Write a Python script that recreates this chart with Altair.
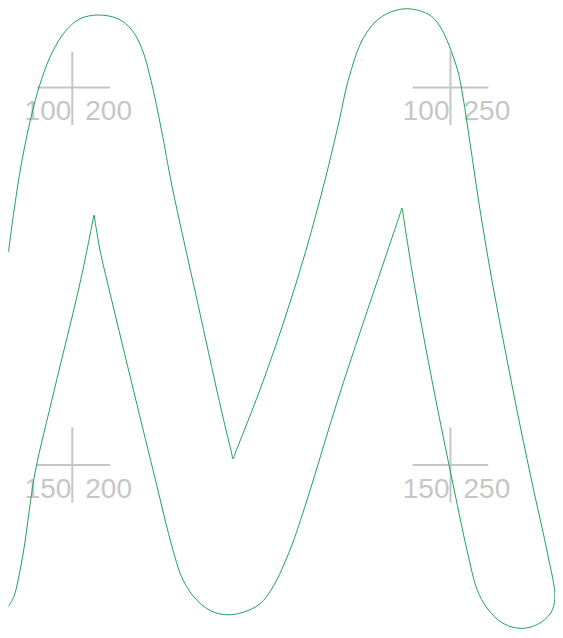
import altair as alt
import pandas as pd

# Path points (data units), in drawing order
path_x = [190.97, 191.70, 192.89, 194.41, 195.73, 197.18, 199.03, 201.02, 203.40, 206.04,
          207.89, 209.22, 210.40, 211.79, 213.18, 216.49, 219.79, 221.06, 221.25, 221.55,
          224.80, 228.04, 230.91, 233.41, 235.31, 236.48, 238.43, 240.68, 243.86, 247.03,
          248.61, 250.86, 251.65, 252.58, 253.97, 255.54, 257.30, 259.34, 261.65, 263.71,
          264.88, 264.22, 262.23, 259.59, 256.94, 254.83, 253.51, 252.18, 250.49, 248.59,
          246.78, 245.11, 243.72, 243.59, 243.33, 235.39, 231.03, 228.78, 226.53, 224.82,
          222.57, 220.59, 218.47, 216.49, 214.64, 213.31, 210.67, 204.98, 203.66, 203.00,
          202.87, 202.71, 201.02, 197.45, 194.80, 194.01, 193.35, 192.56, 191.76, 190.97]
path_y = [121.80, 116.63, 109.61, 102.99, 98.62, 95.05, 92.13, 90.41, 89.88, 90.41,
          92.00, 94.65, 99.02, 105.64, 113.06, 128.15, 143.12, 148.41, 149.21, 148.41,
          140.07, 130.80, 121.53, 112.26, 104.32, 99.02, 93.19, 90.28, 89.02, 89.75,
          91.47, 97.30, 101.27, 107.36, 116.63, 125.90, 135.17, 144.44, 153.71, 161.66,
          167.88, 170.26, 171.98, 172.65, 171.85, 169.47, 166.55, 161.26, 153.31, 144.04,
          134.77, 125.50, 116.76, 115.97, 116.76, 140.47, 154.64, 161.26, 166.16, 168.81,
          170.13, 170.53, 170.00, 168.28, 165.23, 161.26, 150.66, 127.23, 121.53, 117.69,
          116.90, 117.69, 125.90, 140.07, 150.66, 155.30, 159.93, 164.17, 167.61, 169.20]

# Reference crosses
cross_x = [200, 250, 200, 250]
cross_y = [100, 100, 150, 150]

path_df = pd.DataFrame({"x": path_x, "y": path_y, "i": list(range(len(path_x)))})
cross_df = pd.DataFrame({"cx": cross_x, "cy": cross_y,
                         "xl": [str(v) for v in cross_x],
                         "yl": [str(v) for v in cross_y]})

W, H = 547, 622
xs = alt.Scale(domain=[190.9, 200, 258, 264.9], range=[0, 64.3, 503.0, W],
               nice=False, zero=False)
ys = alt.Scale(domain=[88.9, 100, 166, 172.9], range=[0, 79.4, 577.8, H],
               nice=False, zero=False)

GRAY = "#c6c6c6"
ARM = 5

base = alt.Chart(cross_df).transform_calculate(
    x1=f"datum.cx - {ARM}", x2=f"datum.cx + {ARM}",
    y1=f"datum.cy - {ARM}", y2=f"datum.cy + {ARM}")

hrule = base.mark_rule(color=GRAY, strokeWidth=2).encode(
    x=alt.X("x1:Q", scale=xs, axis=None), x2="x2:Q",
    y=alt.Y("cy:Q", scale=ys, axis=None))
vrule = base.mark_rule(color=GRAY, strokeWidth=2).encode(
    x=alt.X("cx:Q", scale=xs, axis=None),
    y=alt.Y("y1:Q", scale=ys, axis=None), y2="y2:Q")

ylab = base.mark_text(align="right", baseline="alphabetic", dx=-1, dy=33,
                      fontSize=28, font="Liberation Sans", color=GRAY).encode(
    x=alt.X("cx:Q", scale=xs, axis=None), y=alt.Y("cy:Q", scale=ys, axis=None),
    text="yl:N")
xlab = base.mark_text(align="left", baseline="alphabetic", dx=13, dy=33,
                      fontSize=28, font="Liberation Sans", color=GRAY).encode(
    x=alt.X("cx:Q", scale=xs, axis=None), y=alt.Y("cy:Q", scale=ys, axis=None),
    text="xl:N")

line = alt.Chart(path_df).mark_line(interpolate="catmull-rom", color="#1fa35a",
                                    strokeWidth=1).encode(
    x=alt.X("x:Q", scale=xs, axis=None),
    y=alt.Y("y:Q", scale=ys, axis=None),
    order="i:Q")

chart = alt.layer(hrule, vrule, ylab, xlab, line).properties(
    width=W, height=H, padding=0, autosize=alt.AutoSizeParams(type="none"),
    background="white"
).configure_view(stroke=None)

chart.save("out.html", embed_options={"renderer": "svg", "actions": False})
